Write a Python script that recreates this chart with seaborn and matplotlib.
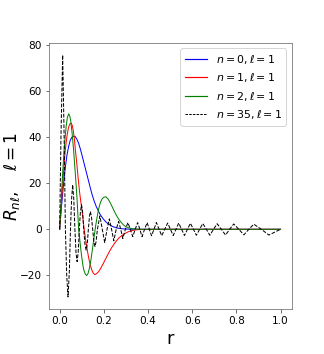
import matplotlib
matplotlib.use("Agg")
import matplotlib.pyplot as plt
from matplotlib.lines import Line2D
import seaborn as sns
import pandas as pd

# radial functions (r, R_nl) for l = 1
r_n0 = [0, 0.005, 0.011, 0.018, 0.026, 0.033, 0.041, 0.048, 0.055, 0.062,
        0.07, 0.078, 0.085, 0.093, 0.1, 0.108, 0.116, 0.124, 0.132, 0.14,
        0.147, 0.156, 0.165, 0.175, 0.184, 0.195, 0.207, 0.222, 0.24, 0.26,
        0.28, 0.3, 0.33, 0.37, 1.0]
R_n0 = [0, 6, 12.7, 20, 27, 32, 36, 38.5, 39.8, 40.3,
        40.2, 39, 37.5, 35, 32.5, 29.5, 26.5, 23.5, 20.5, 17.5,
        15, 12.3, 10, 8, 6.3, 4.8, 3.4, 2.2, 1.2, 0.55,
        0.25, 0.1, 0.03, 0, 0]

r_n1 = [0, 0.005, 0.01, 0.015, 0.02, 0.025, 0.03, 0.035, 0.04, 0.046,
        0.052, 0.057, 0.062, 0.067, 0.071, 0.076, 0.081, 0.086, 0.091, 0.096,
        0.101, 0.106, 0.111, 0.118, 0.125, 0.132, 0.139, 0.146, 0.152, 0.159,
        0.166, 0.175, 0.184, 0.195, 0.207, 0.22, 0.235, 0.252, 0.27, 0.29,
        0.31, 0.33, 0.35, 0.38, 0.42, 1.0]
R_n1 = [0, 7, 14, 21, 28, 33.5, 38, 41.5, 44, 45.6,
        46, 45, 42.5, 39, 34.5, 30, 25, 20, 15.5, 11.8,
        8.4, 4.2, 0, -4.7, -9, -12.7, -15.6, -17.7, -19, -19.6,
        -19.3, -18.5, -17.2, -15.3, -13, -10.6, -8, -5.6, -3.6, -2.1,
        -1.1, -0.5, -0.2, -0.05, 0, 0]

r_n2 = [0, 0.005, 0.01, 0.015, 0.02, 0.025, 0.03, 0.035, 0.041, 0.046,
        0.05, 0.056, 0.063, 0.068, 0.074, 0.079, 0.086, 0.09, 0.095, 0.1,
        0.105, 0.11, 0.116, 0.122, 0.128, 0.135, 0.142, 0.15, 0.157, 0.163,
        0.17, 0.177, 0.185, 0.193, 0.202, 0.21, 0.22, 0.23, 0.24, 0.25,
        0.26, 0.27, 0.28, 0.29, 0.3, 0.313, 0.33, 0.35, 0.38, 1.0]
R_n2 = [0, 9, 18, 26.5, 34, 40, 45, 48.5, 50, 49,
        47, 42, 34.5, 28, 20, 12.7, 0, -3.5, -8, -12,
        -15.5, -17.8, -19.4, -20, -19.3, -16.8, -13, -7.5, -2.5, 1.5,
        5.5, 9, 11.7, 13.3, 14, 14, 13, 11.3, 9.3, 7.3,
        5.5, 4, 2.8, 1.8, 1.1, 0.6, 0.25, 0.08, 0, 0]

r_n35 = [0, 0.006, 0.0136, 0.02, 0.026, 0.032, 0.038, 0.044, 0.049, 0.054,
         0.059, 0.064, 0.069, 0.074, 0.079, 0.084, 0.089, 0.094, 0.099, 0.104,
         0.109, 0.1145, 0.12, 0.125, 0.13, 0.135, 0.139, 0.144, 0.1495, 0.155,
         0.16, 0.165, 0.171, 0.182, 0.193, 0.204, 0.2145, 0.225, 0.235, 0.245,
         0.256, 0.267, 0.2765, 0.286, 0.2975, 0.309, 0.32, 0.331, 0.342, 0.353,
         0.363, 0.373, 0.3845, 0.396, 0.406, 0.416, 0.427, 0.438, 0.45, 0.462,
         0.4755, 0.489, 0.5015, 0.514, 0.5265, 0.539, 0.552, 0.565, 0.5785, 0.592,
         0.6055, 0.619, 0.6335, 0.648, 0.664, 0.68, 0.6965, 0.713, 0.732, 0.751,
         0.7695, 0.788, 0.811, 0.834, 0.8565, 0.879, 0.913, 0.947, 1.0]
R_n35 = [0, 40, 75.5, 42, 0, -20, -29.3, -18, 0, 13,
         19.3, 13, 0, -10, -14, -10, 0, 7.5, 10.6, 7.5,
         0, -6.5, -9, -6.5, 0, 5.5, 7.7, 5.5, 0, -5.3,
         -7.5, -5.3, 0, 5.8, 0, -5.8, 0, 4.5, 0, -5,
         0, 3.4, 0, -4, 0, 2.9, 0, -3.2, 0, 2.9,
         0, -3.2, 0, 2.9, 0, -2.8, 0, 2.9, 0, -2.8,
         0, 2.7, 0, -2.7, 0, 2.7, 0, -2.7, 0, 2.6,
         0, -2.6, 0, 2.5, 0, -2.6, 0, 2.4, 0, -2.5,
         0, 2.3, 0, -2.4, 0, 2.2, 0, -2.5, 0]

labels = [r"$n=0,\ell=1$", r"$n=1,\ell=1$", r"$n=2,\ell=1$", r"$n=35,\ell=1$"]
colors = ["#0000ff", "#ff0000", "#008000", "#000000"]
styles = ["-", "-", "-", "--"]

fig = plt.figure(figsize=(4.5, 354 / 72), dpi=72)
ax = fig.add_axes([0.150, 0.127, 0.750, 0.752])

series = [(r_n0, R_n0), (r_n1, R_n1), (r_n2, R_n2), (r_n35, R_n35)]
handles = []
for (rr, vals), col, ls in zip(series, colors, styles):
    df = pd.DataFrame({"r": rr, "R": vals})
    sns.lineplot(data=df, x="r", y="R", color=col, linestyle=ls, linewidth=1.0,
                 ax=ax, estimator=None)
    if ls == "--":
        h = Line2D([0, 1], [0, 0], color=col, linewidth=1.0, dashes=[2.5, 1.2])
    else:
        h = Line2D([0, 1], [0, 0], color=col, linewidth=1.2)
    handles.append(h)

ax.set_xticks([0.0, 0.2, 0.4, 0.6, 0.8, 1.0])
ax.set_yticks([-20, 0, 20, 40, 60, 80])
ax.tick_params(labelsize=10.5, color="0.3")
ax.set_xlabel("r", fontsize=18)
ax.set_ylabel(r"$R_{n\ell},\quad\ell=1$", fontsize=17)
ax.yaxis.set_label_coords(-0.11, 0.5)
for sp in ax.spines.values():
    sp.set_color("0.45")
ax.legend(handles=handles, labels=labels, loc="upper right", fontsize=11)

fig.savefig("out.png", dpi=72)
